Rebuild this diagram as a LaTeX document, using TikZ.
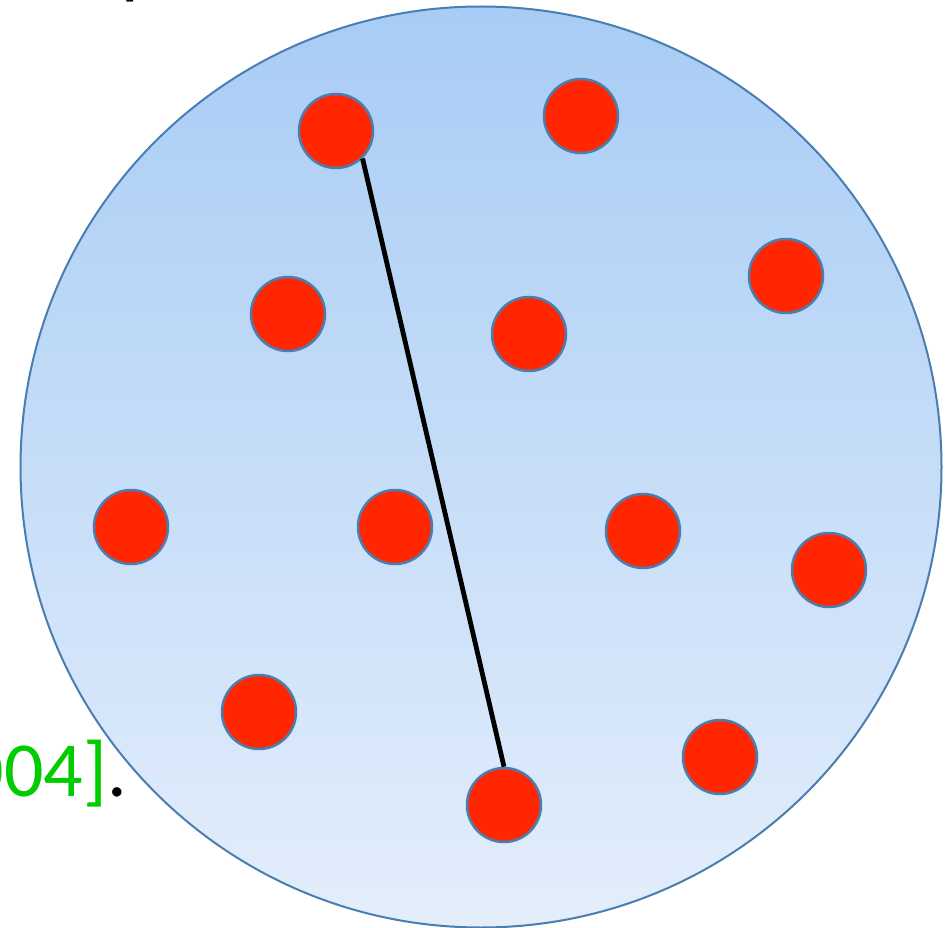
\documentclass[tikz,border=0pt]{standalone}
\usepackage{fontspec}
\setmainfont{Carlito}
\definecolor{rimblue}{RGB}{74,126,176}
\definecolor{dotred}{RGB}{255,38,0}
\definecolor{skytop}{RGB}{168,204,245}
\definecolor{skybot}{RGB}{228,238,251}
\definecolor{refgreen}{RGB}{0,204,0}
\begin{document}
\begin{tikzpicture}[x=1pt,y=-1pt,
  dot/.style={circle,draw=rimblue,line width=2.5pt,fill=dotred,minimum size=74pt,inner sep=0pt},
  link/.style={draw=black,line width=4.8pt}]
\useasboundingbox (0,0) rectangle (948,928);
\node[circle,draw=rimblue,line width=2pt,top color=skytop,bottom color=skybot,minimum size=921pt,inner sep=0pt] (disc) at (481,467) {};
\node[dot] (d1) at (336,131) {};
\node[dot] (d2) at (581,116) {};
\node[dot] (d3) at (786,276) {};
\node[dot] (d4) at (288,314) {};
\node[dot] (d5) at (529,334) {};
\node[dot] (d6) at (131,527) {};
\node[dot] (d7) at (395,527) {};
\node[dot] (d8) at (643,531) {};
\node[dot] (d9) at (829,570) {};
\node[dot] (d10) at (259,712) {};
\node[dot] (d11) at (720,757) {};
\node[dot] (d12) at (504,805) {};
\draw[link] (d1.-46) -- (d12.90);
\node[anchor=base east,inner sep=0pt,font=\fontsize{78}{84}\selectfont] (cite) at (127,796) {\textcolor{refgreen}{[2004]}.};
\node[anchor=base west,inner sep=0pt,font=\fontsize{78}{84}\selectfont] (frag) at (121,-10) {p};
\end{tikzpicture}
\end{document}
